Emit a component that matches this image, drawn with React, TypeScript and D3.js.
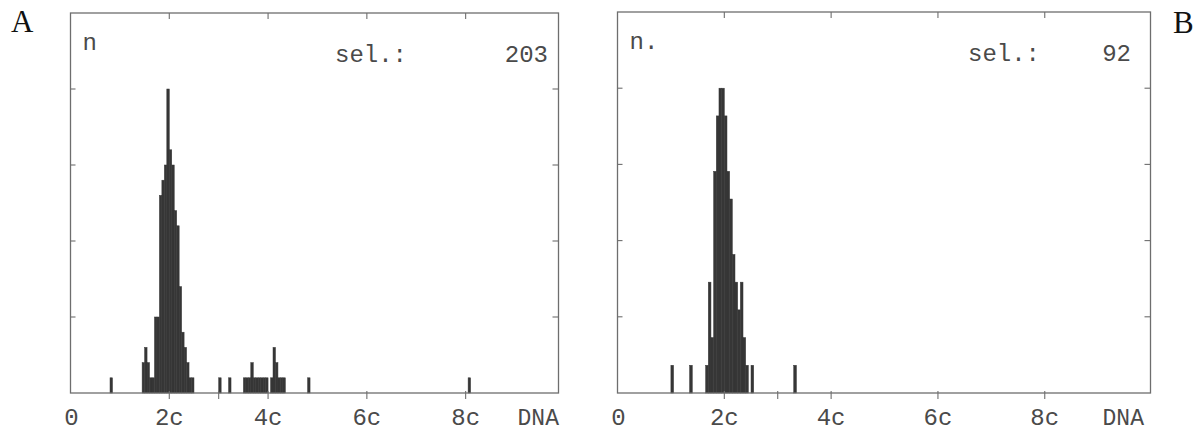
import React from "react";
import * as d3 from "d3";

// histogram bins: DNA value (start of 0.05c bin) and cell count
const binWidth = 0.05;

const dnaA = [
  0.8, 1.45, 1.5, 1.55, 1.6, 1.65, 1.7, 1.75, 1.8, 1.85, 1.9, 1.95, 2.0, 2.05,
  2.1, 2.15, 2.2, 2.25, 2.3, 2.35, 2.4, 2.45, 3.0, 3.2, 3.5, 3.55, 3.6, 3.65,
  3.7, 3.75, 3.8, 3.85, 3.9, 3.95, 4.05, 4.1, 4.15, 4.2, 4.25, 4.3, 4.8, 8.05,
];
const countA = [
  1, 2, 3, 2, 1, 1, 5, 5, 13, 14, 15, 20, 16, 15, 12, 11, 7, 4, 3, 2, 1, 1, 1,
  1, 1, 1, 1, 2, 1, 1, 1, 1, 1, 1, 1, 3, 2, 1, 1, 1, 1, 1,
];

const dnaB = [
  1.0, 1.35, 1.65, 1.7, 1.75, 1.8, 1.85, 1.9, 1.95, 2.0, 2.05, 2.1, 2.15, 2.2,
  2.25, 2.3, 2.35, 2.4, 2.5, 3.3,
];
const countB = [1, 1, 1, 4, 2, 8, 10, 11, 11, 10, 8, 7, 5, 4, 3, 4, 2, 1, 1, 1];

const xLabelValues = [0, 2, 4, 6, 8];
const xLabels = ["0", "2c", "4c", "6c", "8c"];
const bottomTicks = [2, 3, 4, 6, 8];
const topTicks = [2, 4, 6, 8];

const selA = 203;
const selB = 92;

const mono = "'Liberation Mono', 'DejaVu Sans Mono', monospace";
const serif = "'Liberation Serif', 'DejaVu Serif', serif";
const ink = "#4a4a4a";
const frame = "#6e6e6e";
const barFill = "#363636";

type PanelProps = {
  left: number;
  right: number;
  top: number;
  bottom: number;
  xMax: number;
  yMax: number;
  dna: number[];
  counts: number[];
  sel: number;
  nLabel: string;
  selX: number;
  numX: number;
};

function Panel(p: PanelProps) {
  const x = d3.scaleLinear().domain([0, p.xMax]).range([p.left, p.right]);
  const y = d3.scaleLinear().domain([0, p.yMax]).range([p.bottom, p.top]);
  // y ticks divide the axis in five equal parts
  const yTicks = d3.range(1, 5).map((i) => (p.yMax * i) / 5);
  const bw = x(binWidth) - x(0);

  return (
    <g>
      {p.dna.map((d, i) => (
        <rect
          key={i}
          x={x(d)}
          y={y(p.counts[i])}
          width={bw}
          height={p.bottom - y(p.counts[i])}
          fill={barFill}
          stroke={barFill}
          strokeWidth={0.5}
        />
      ))}
      <rect
        x={p.left}
        y={p.top}
        width={p.right - p.left}
        height={p.bottom - p.top}
        fill="none"
        stroke={frame}
        strokeWidth={1.3}
      />
      {yTicks.map((t) => (
        <g key={t} stroke={frame} strokeWidth={1.1}>
          <line x1={p.left} x2={p.left + 5} y1={y(t)} y2={y(t)} />
          <line x1={p.right - 6} x2={p.right} y1={y(t)} y2={y(t)} />
        </g>
      ))}
      {topTicks.map((t) => (
        <line
          key={t}
          x1={x(t)}
          x2={x(t)}
          y1={p.top}
          y2={p.top + 6}
          stroke={frame}
          strokeWidth={1.1}
        />
      ))}
      {bottomTicks.map((t) => (
        <line
          key={t}
          x1={x(t)}
          x2={x(t)}
          y1={p.bottom - 2}
          y2={p.bottom + 6}
          stroke={frame}
          strokeWidth={1.1}
        />
      ))}
      {xLabelValues.map((v, i) => (
        <text
          key={v}
          x={x(v) + (v === 0 ? 1 : 0)}
          y={p.bottom + 32}
          textAnchor="middle"
          fontFamily={mono}
          fontSize={24}
          fill={ink}
        >
          {xLabels[i]}
        </text>
      ))}
      <text
        x={x(9.47)}
        y={p.bottom + 32}
        textAnchor="middle"
        fontFamily={mono}
        fontSize={23}
        fill={ink}
      >
        DNA
      </text>
      <text
        x={p.left + 12}
        y={p.top + 37}
        fontFamily={mono}
        fontSize={24}
        fill={ink}
      >
        {p.nLabel}
      </text>
      <text x={p.selX} y={p.top + 49} fontFamily={mono} fontSize={24} fill={ink}>
        sel.:
      </text>
      <text
        x={p.numX}
        y={p.top + 49}
        textAnchor="end"
        fontFamily={mono}
        fontSize={24}
        fill={ink}
      >
        {p.sel}
      </text>
    </g>
  );
}

export default function App() {
  return (
    <svg
      width={1202}
      height={431}
      style={{ position: "absolute", left: 0, top: 0, background: "#fff" }}
    >
      <text x={11} y={32} fontFamily={serif} fontSize={31} fill="#111">
        A
      </text>
      <text x={1173} y={33} fontFamily={serif} fontSize={31} fill="#111">
        B
      </text>
      <Panel
        left={70.5}
        right={558.5}
        top={13}
        bottom={393}
        xMax={9.88}
        yMax={25}
        dna={dnaA}
        counts={countA}
        sel={selA}
        nLabel="n"
        selX={335}
        numX={548}
      />
      <Panel
        left={617.5}
        right={1150.5}
        top={12}
        bottom={393}
        xMax={9.98}
        yMax={13.75}
        dna={dnaB}
        counts={countB}
        sel={selB}
        nLabel="n."
        selX={968}
        numX={1131}
      />
    </svg>
  );
}
